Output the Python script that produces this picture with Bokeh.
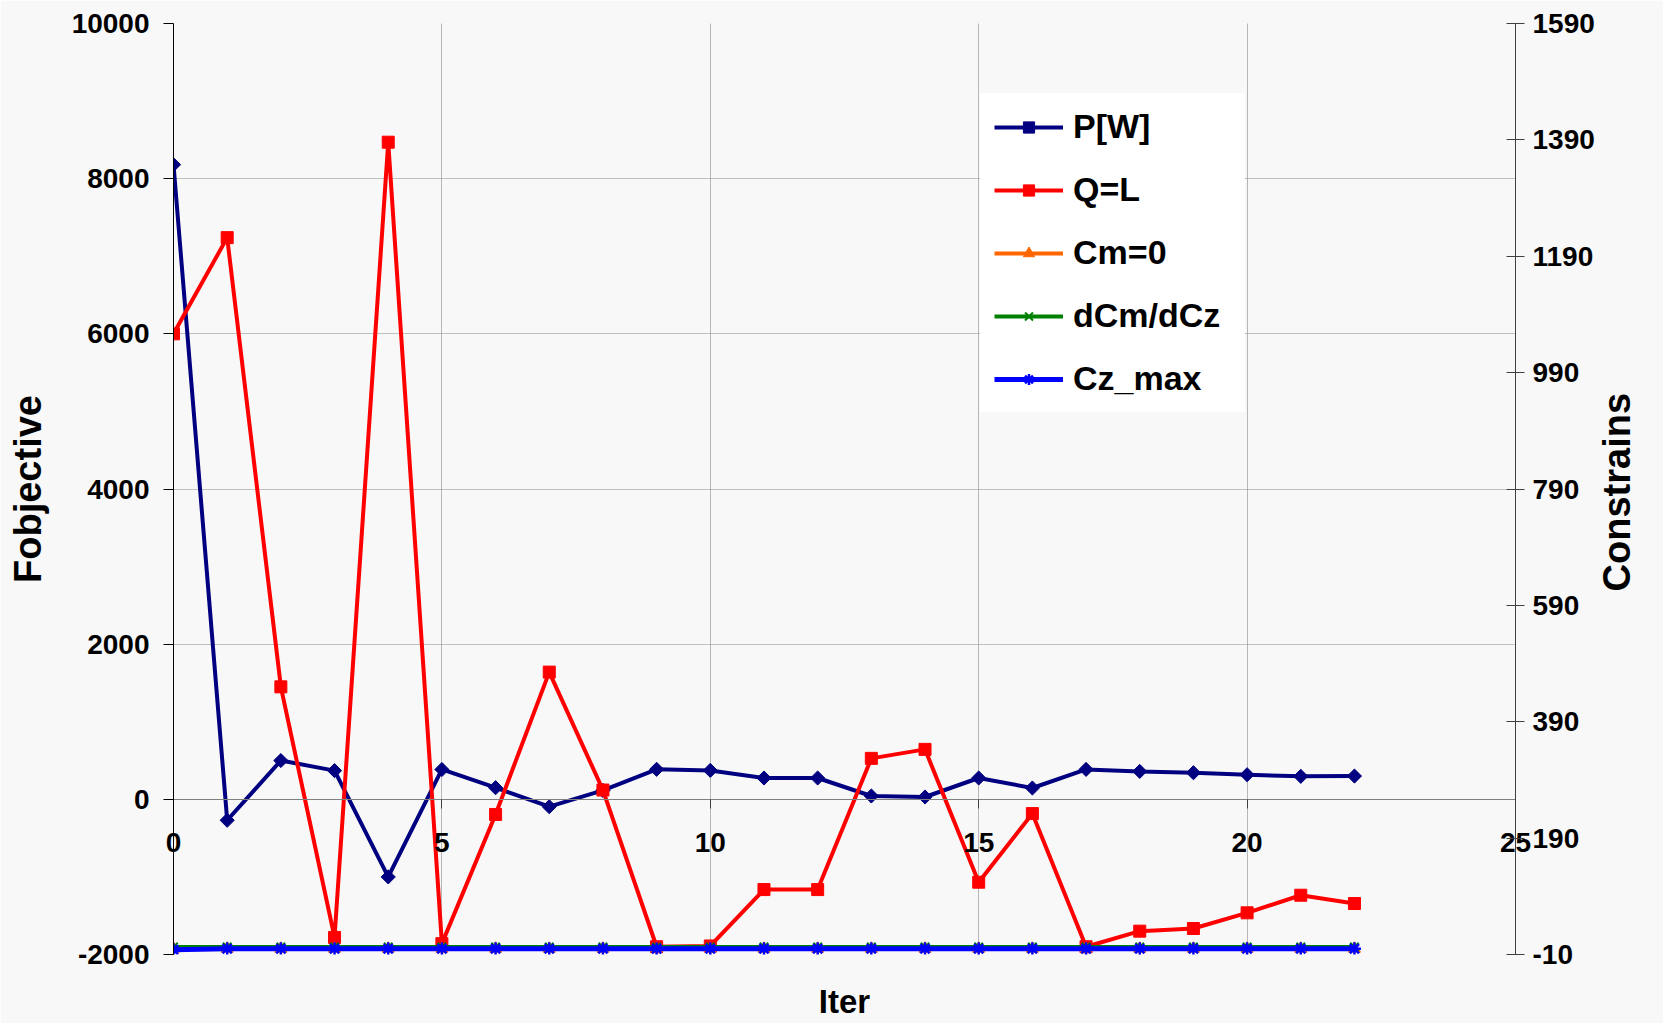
import math
from bokeh.plotting import figure
from bokeh.models import Range1d, LinearAxis, FixedTicker, Legend, LegendItem, Grid
from bokeh.embed import file_html
from bokeh.resources import INLINE

# ---------------- data ----------------
iterations = [0, 1, 2, 3, 4, 5, 6, 7, 8, 9, 10, 11, 12, 13, 14, 15, 16, 17, 18, 19, 20, 21, 22]
p_w = [8180, -270, 500, 370, -1000, 385, 150, -95, 115, 387, 373, 275, 275, 43, 30, 275, 146, 386, 360, 343, 317, 296, 300]
q_l = [6000, 7240, 1450, -1780, 8470, -1860, -195, 1640, 120, -1900, -1890, -1163, -1163, 528, 644, -1068, -184, -1900, -1699, -1665, -1463, -1236, -1343]
cm_0 = [0, 0, 0, 0, 0, 0, 0, 0, 0, 0, 0, 0, 0, 0, 0, 0, 0, 0, 0, 0, 0, 0, 0]
dcm_dcz = [3, 3, 3, 3, 3, 3, 3, 3, 3, 3, 3, 3, 3, 3, 3, 3, 3, 3, 3, 3, 3, 3, 3]
cz_max = [-2, 0, 0, 0, 0, 0, 0, 0, 0, 0, 0, 0, 0, 0, 0, 0, 0, 0, 0, 0, 0, 0, 0]

x_ticks = [0, 5, 10, 15, 20, 25]
left_ticks = [-2000, 0, 2000, 4000, 6000, 8000, 10000]
right_ticks = [-10, 190, 390, 590, 790, 990, 1190, 1390, 1590]

# layout helper (a position, not data)
RIGHT_TITLE_AT = 614          # right-axis value where the rotated title starts

FONT = "Liberation Sans"
BG = "#f8f8f8"

p = figure(width=1663, height=1023,
           x_range=Range1d(0, 25), y_range=Range1d(-2000, 10000),
           output_backend="svg", toolbar_location=None,
           x_axis_location=None, y_axis_location="left",
           min_border_left=173, min_border_right=148,
           min_border_top=23, min_border_bottom=69,
           background_fill_color=BG, border_fill_color=BG,
           outline_line_color=None)
p.extra_y_ranges = {"con": Range1d(-10, 1590)}

# grids
p.ygrid.ticker = FixedTicker(ticks=left_ticks)
p.ygrid.grid_line_color = "#888888"
p.ygrid.grid_line_dash = "1 1"
p.ygrid.grid_line_width = 1
xgrid = Grid(dimension=0, ticker=FixedTicker(ticks=x_ticks),
             grid_line_color="#888888", grid_line_dash="1 1", grid_line_width=1)
p.add_layout(xgrid)

def style_axis(ax, size="28px"):
    ax.major_label_text_font = FONT
    ax.major_label_text_font_style = "bold"
    ax.major_label_text_font_size = size
    ax.major_label_text_color = "black"
    ax.minor_tick_line_color = None
    ax.minor_tick_out = 0
    ax.minor_tick_in = 0
    ax.axis_label_text_font = FONT
    ax.axis_label_text_font_style = "bold"
    ax.axis_label_text_color = "black"

# ---- left axis ----
ly = p.yaxis[0]
style_axis(ly)
ly.ticker = FixedTicker(ticks=left_ticks)
ly.major_label_overrides = {t: str(t) for t in left_ticks}
ly.major_tick_out = 10
ly.major_tick_in = 0
ly.major_tick_line_color = "black"
ly.axis_line_color = "black"
ly.major_label_standoff = 14
ly.axis_label = "Fobjective"
ly.axis_label_text_font_size = "38px"
ly.axis_label_standoff = 20

# ---- right axis (line, ticks, numbers) ----
ry = LinearAxis(y_range_name="con", ticker=FixedTicker(ticks=right_ticks))
style_axis(ry)
ry.major_label_overrides = {t: str(t) for t in right_ticks}
ry.major_tick_out = 9
ry.major_tick_in = 9
ry.major_tick_line_color = "#404040"
ry.axis_line_color = "#404040"
ry.major_label_standoff = 8
p.add_layout(ry, "right")

# right title, reading bottom-to-top
rt = LinearAxis(y_range_name="con", ticker=FixedTicker(ticks=[RIGHT_TITLE_AT]))
style_axis(rt, "38px")
rt.major_label_overrides = {RIGHT_TITLE_AT: "Constrains"}
rt.major_label_orientation = math.pi / 2
rt.major_label_standoff = 20
rt.major_tick_out = 0
rt.major_tick_in = 0
rt.axis_line_color = None
rt.major_tick_line_color = None
p.add_layout(rt, "right")

# ---- x axis crossing at y = 0 (line and ticks) ----
xa = LinearAxis(ticker=FixedTicker(ticks=x_ticks), fixed_location=0)
style_axis(xa)
xa.major_tick_out = 9
xa.major_tick_in = 0
xa.major_tick_line_color = "#404040"
xa.axis_line_color = "#808080"
xa.major_label_text_color = None
p.add_layout(xa, "below")

# x title
xt = LinearAxis(ticker=FixedTicker(ticks=[]), axis_label="Iter")
style_axis(xt)
xt.axis_line_color = None
xt.major_tick_out = 0
xt.major_tick_in = 0
xt.major_label_text_color = None
xt.axis_label_text_font_size = "33px"
xt.axis_label_standoff = 28
p.add_layout(xt, "below")

# x tick numbers, lifted up to sit just under the y = 0 axis
xl = LinearAxis(ticker=FixedTicker(ticks=x_ticks))
style_axis(xl)
xl.major_label_overrides = {t: str(t) for t in x_ticks}
xl.axis_line_color = None
xl.major_tick_out = 0
xl.major_tick_in = 0
xl.major_tick_line_color = None
xl.major_label_standoff = -190
p.add_layout(xl, "below")

# ---- series ----
l1 = p.line(iterations, p_w, line_color="#000080", line_width=4)
s1 = p.scatter(iterations, p_w, marker="square", angle=math.pi / 4, size=10,
               fill_color="#000080", line_color="#000080")
l2 = p.line(iterations, q_l, line_color="#ff0000", line_width=4)
s2 = p.scatter(iterations, q_l, marker="square", size=12,
               fill_color="#ff0000", line_color="#ff0000")
l3 = p.line(iterations, cm_0, line_color="#ff6600", line_width=4, y_range_name="con")
s3 = p.scatter(iterations, cm_0, marker="triangle", size=12,
               fill_color="#ff6600", line_color="#ff6600", y_range_name="con")
l4 = p.line(iterations, dcm_dcz, line_color="#008000", line_width=4, y_range_name="con")
s4 = p.scatter(iterations, dcm_dcz, marker="x", size=12, line_width=2,
               line_color="#008000", y_range_name="con")
l5 = p.line(iterations, cz_max, line_color="#0000ff", line_width=5, y_range_name="con")
s5 = p.scatter(iterations, cz_max, marker="asterisk", size=13, line_width=2.5,
               line_color="#0000ff", y_range_name="con")

legend = Legend(items=[
    LegendItem(label="P[W]", renderers=[l1, s1]),
    LegendItem(label="Q=L", renderers=[l2, s2]),
    LegendItem(label="Cm=0", renderers=[l3, s3]),
    LegendItem(label="dCm/dCz", renderers=[l4, s4]),
    LegendItem(label="Cz_max", renderers=[l5, s5]),
], location=(807, 542), orientation="vertical",
    background_fill_color="white", background_fill_alpha=1.0,
    border_line_color="white", border_line_width=1,
    padding=13, spacing=24, margin=0,
    glyph_width=69, glyph_height=28, label_height=38, label_width=158,
    label_standoff=10,
    label_text_font=FONT, label_text_font_style="bold",
    label_text_font_size="34px", label_text_color="black")
p.add_layout(legend)

open("out.html", "w").write(file_html(p, INLINE))
